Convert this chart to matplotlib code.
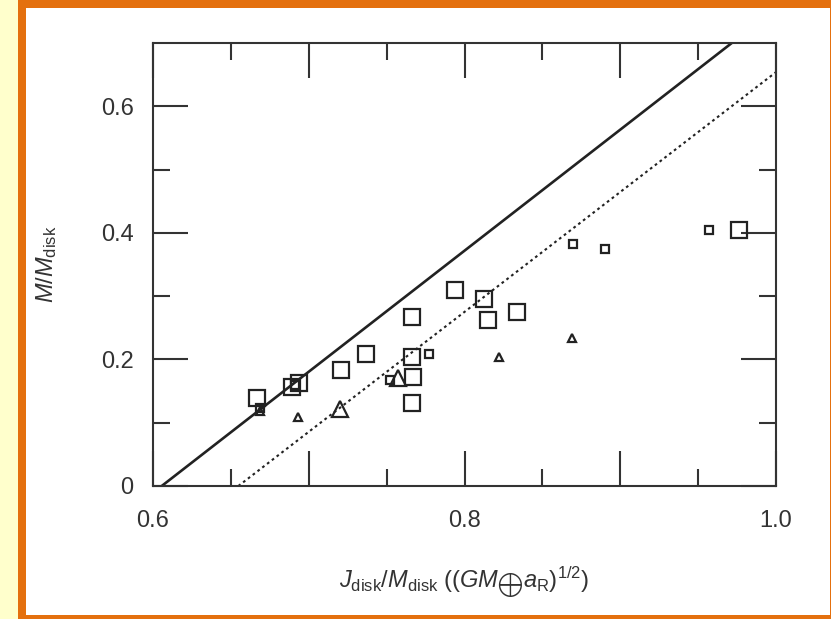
import matplotlib
matplotlib.use("Agg")
import matplotlib.pyplot as plt
from matplotlib.patches import Rectangle
import numpy as np

plt.rcParams['font.family'] = ['Liberation Sans', 'DejaVu Sans']
plt.rcParams['mathtext.fontset'] = 'custom'
plt.rcParams['mathtext.rm'] = 'Liberation Sans'
plt.rcParams['mathtext.it'] = 'Liberation Sans:italic'
plt.rcParams['mathtext.bf'] = 'Liberation Sans:bold'

# ---- data ----
big_sq_x = [0.667, 0.689, 0.694, 0.721, 0.737, 0.766, 0.766, 0.767, 0.766, 0.794, 0.8125, 0.815, 0.8335, 0.9765]
big_sq_y = [0.139, 0.157, 0.163, 0.183, 0.209, 0.267, 0.204, 0.173, 0.131, 0.310, 0.295, 0.263, 0.275, 0.405]
small_sq_x = [0.6687, 0.691, 0.752, 0.777, 0.8694, 0.890, 0.957]
small_sq_y = [0.123, 0.160, 0.167, 0.209, 0.383, 0.375, 0.405]
big_tri_x = [0.720, 0.7575]
big_tri_y = [0.121, 0.170]
small_tri_x = [0.6687, 0.693, 0.822, 0.869]
small_tri_y = [0.118, 0.109, 0.204, 0.234]
# reference lines: endpoints (x, y)
solid_x = [0.6056, 0.9716]
solid_y = [0.0, 0.7]
dotted_x = [0.6548, 1.0]
dotted_y = [0.0, 0.654]
xticks_major = [0.6, 0.7, 0.8, 0.9, 1.0]
xtick_labels = ['0.6', '', '0.8', '', '1.0']
yticks_major = [0.0, 0.2, 0.4, 0.6]
ytick_labels = ['0', '0.2', '0.4', '0.6']

W, H = 831, 619
fig = plt.figure(figsize=(W / 100, H / 100), dpi=100)
fig.patch.set_facecolor('#FFFFCC')

# orange framed white panel
fig.patches.append(Rectangle((22 / W, 0 / H), (834 - 22) / W, (615.5 - 0) / H,
                             transform=fig.transFigure, facecolor='white',
                             edgecolor='#E4700E', linewidth=8 * 0.72, zorder=-5))

ax = fig.add_axes([153 / W, 133 / H, 623 / W, 443 / H])
ax.set_zorder(2)
ax.set_facecolor('white')
ec = '#222222'

ax.plot(solid_x, solid_y, color=ec, lw=1.9, solid_capstyle='butt', zorder=2)
ax.plot(dotted_x, dotted_y, color=ec, lw=1.5, linestyle=(0, (1.3, 1.6)), zorder=2)

ax.plot(big_sq_x, big_sq_y, 's', ms=11, mfc='none', mec=ec, mew=1.6, ls='none', zorder=3)
ax.plot(small_sq_x, small_sq_y, 's', ms=5.5, mfc='none', mec=ec, mew=1.6, ls='none', zorder=3)
ax.plot(big_tri_x, big_tri_y, '^', ms=12, mfc='none', mec=ec, mew=1.6, ls='none', zorder=3)
ax.plot(small_tri_x, small_tri_y, '^', ms=6, mfc='none', mec=ec, mew=1.6, ls='none', zorder=3)

ax.set_xlim(0.6, 1.0)
ax.set_ylim(0.0, 0.7)
ax.set_xticks(xticks_major)
ax.set_xticklabels(xtick_labels)
ax.set_xticks(np.arange(0.65, 1.0, 0.1), minor=True)
ax.set_yticks(yticks_major)
ax.set_yticklabels(ytick_labels)
ax.set_yticks([0.1, 0.3, 0.5], minor=True)

for s in ax.spines.values():
    s.set_linewidth(1.5)
    s.set_color('#333333')
ax.tick_params(which='both', direction='in', top=True, right=True, color='#333333', width=1.5)
ax.tick_params(which='major', length=25, labelsize=17, labelcolor='#333333')
ax.tick_params(which='minor', length=12.5)
ax.tick_params(axis='x', which='major', pad=17)
ax.tick_params(axis='y', which='major', pad=14)

ax.set_xlabel(r'$J_{\mathrm{disk}}/M_{\mathrm{disk}}\ ((GM_{\bigoplus}a_{\mathrm{R}})^{1/2})$',
              fontsize=17, color='#333333', labelpad=24)
ax.set_ylabel(r'$M/M_{\mathrm{disk}}$', fontsize=17, color='#333333', labelpad=30)

fig.savefig('out.png', dpi=100, facecolor=fig.get_facecolor())
